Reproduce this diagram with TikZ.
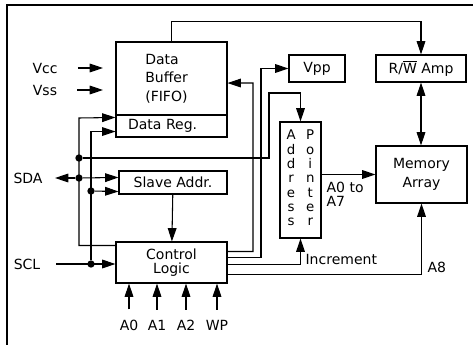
\documentclass[tikz,border=0pt]{standalone}
\usepackage{fontspec}
\setmainfont{DejaVu Sans}
\usetikzlibrary{arrows.meta,positioning,calc}

\begin{document}
\begin{tikzpicture}[x=0.75pt,y=-0.75pt]

% --- STYLES ---
\tikzset{
  lbl/.style={font=\fontsize{10.5}{12}\selectfont, inner sep=1pt},
  blk/.style={draw=black, line width=0.8pt, inner sep=0pt, align=center,
              font=\fontsize{10.5}{12}\selectfont},
  wire/.style={black, line width=0.8pt},
  arr/.style={wire, -{Triangle[length=10pt, width=6.5pt]}},
  biarr/.style={wire, {Triangle[length=10pt, width=6.5pt]}-{Triangle[length=10pt, width=6.5pt]}},
  dot/.style={circle, fill=black, inner sep=0pt, minimum size=5.5pt},
}

\useasboundingbox (0,0) rectangle (473,345);

% ================= FRAME =================
\draw[line width=1.3pt] (473,5) -| (7,345);

% ================= BLOCKS =================
\node[blk, minimum width=83.25pt, minimum height=54.75pt, inner xsep=22pt,
      text width=39.25pt, align=left, font=\fontsize{10.5}{14}\selectfont]
      (buf) at (171.5,78.5) {Data\\Buffer\\(FIFO)};
\node[blk, minimum width=83.25pt, minimum height=16.5pt, inner xsep=9pt,
      text width=65.25pt, align=left] (dreg) at (171.5,126) {Data Reg.};
\node[blk, minimum width=81pt, minimum height=17.25pt] (slave) at (173,182.5) {Slave Addr.};
\node[blk, minimum width=83.25pt, minimum height=30.75pt,
      font=\fontsize{10.5}{10.5}\selectfont] (ctrl) at (171.5,262.5) {Control\\Logic};
\node[blk, minimum width=42pt, minimum height=20.25pt] (vpp) at (317,68.5) {Vpp};
\node[blk, minimum width=67.5pt, minimum height=20.25pt] (rw) at (421,68.5)
      {R/$\overline{\hbox{W}}$ Amp};
\node[blk, minimum width=68.25pt, minimum height=42.75pt,
      font=\fontsize{10.5}{14}\selectfont] (mem) at (421.5,174.5) {Memory\\Array};
\node[blk, minimum width=30.75pt, minimum height=87pt,
      font=\fontsize{10}{10.7}\selectfont] (addr) at (300.5,180)
      {\begin{tabular}{@{}c@{\hspace{7.8pt}}c@{}}
        A&P\\d&o\\d&i\\r&n\\e&t\\s&e\\s&r
       \end{tabular}};

% ================= PIN LABELS =================
\node[lbl] (vcc) at (45,68) {Vcc};
\node[lbl] (vss) at (45,90) {Vss};
\node[lbl] (sda) at (28,178) {SDA};
\node[lbl] (scl) at (27,264) {SCL};
\node[lbl] (pa0) at (129,325) {A0};
\node[lbl] (pa1) at (157,325) {A1};
\node[lbl] (pa2) at (186,325) {A2};
\node[lbl] (pwp) at (217,325) {WP};
\node[lbl, anchor=west] (inc) at (304,259) {Increment};
\node[lbl, anchor=west] (a8) at (426,267) {A8};
\node[lbl, anchor=north west, align=left, font=\fontsize{10.5}{10.5}\selectfont]
      (a07) at (325,181) {A0 to\\A7};

% ================= JUNCTIONS =================
\node[dot] (jtop) at (79,158) {};
\node[dot] (jsda) at (79,178) {};
\node[dot] (jslv) at (91,191) {};
\node[dot] (jscl) at (91,264) {};

\coordinate (vcctip) at (103,68);
\coordinate (vsstip) at (103,90);
\coordinate (sdatip) at (55,178);

% ================= POWER AND SERIAL PINS =================
\draw[arr] ([xshift=14pt]vcc.east) -- (vcctip);
\draw[arr] ([xshift=14pt]vss.east) -- (vsstip);
\draw[arr] (jsda) -- (sdatip);
\draw[arr] (jsda) -- ([yshift=-5.25pt]slave.north west);
\draw[arr] ([xshift=11pt]scl.east) -- (scl.east -| ctrl.west);

% ================= BUS LINES =================
\draw[arr] ([yshift=-3pt]ctrl.north west) -| (79,118) -- ([yshift=-2.25pt]dreg.north west);
\draw[arr] (jscl) |- ([yshift=4.5pt]dreg.south west);
\draw[arr] (jslv) -- ([yshift=2.25pt]slave.south west);
\draw[arr] (jtop) -| (269,93) -| (addr.north);
\draw[arr] (slave) -- (ctrl);

% ================= CONTROL OUTPUTS =================
\draw[arr] ([yshift=-7.5pt]ctrl.north east) -| (253,83) -- ([yshift=-3.4pt]buf.east);
\draw[arr] ([yshift=-12pt]ctrl.north east) -| (261,68.5) -- (vpp.west);
\draw[arr] ([yshift=-17.25pt]ctrl.north east) -| (addr.south);
\draw[arr] ([yshift=-24.75pt]ctrl.north east) -| (mem.south);

% ================= MEMORY PATH =================
\draw[arr] (buf.north) -- ++(0,-20) -| (rw.north);
\draw[biarr] (rw.south) -- (rw.south |- mem.north);
\draw[arr] (addr.east |- mem.west) -- (mem.west);

% ================= ADDRESS / WP PINS =================
\foreach \p in {pa0, pa1, pa2, pwp} {
    \draw[arr] ([yshift=6.5pt]\p.north) -- (\p.north |- ctrl.south);
}

\end{tikzpicture}
\end{document}
